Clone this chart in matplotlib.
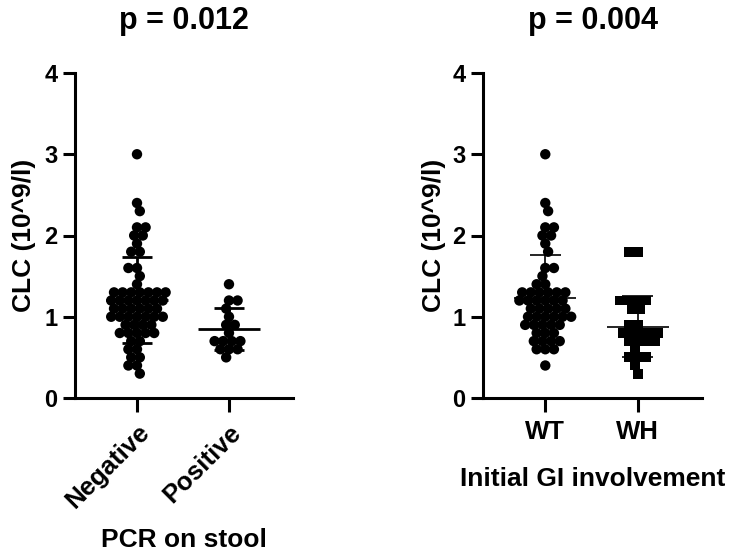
import numpy as np
import matplotlib
matplotlib.use("Agg")
import matplotlib.pyplot as plt

plt.rcParams['font.family'] = ['Liberation Sans', 'DejaVu Sans']
plt.rcParams['font.weight'] = 'bold'

# --- data (CLC, 10^9/l) ---
pcr_groups = ['Negative', 'Positive']
pcr_negative = [3.0, 2.4, 2.3, 2.1, 2.1, 2.0, 2.0, 1.9, 1.8, 1.8, 1.6, 1.6, 1.5, 1.4,
                1.3, 1.3, 1.3, 1.3, 1.3, 1.3, 1.3,
                1.2, 1.2, 1.2, 1.2, 1.2, 1.2, 1.2,
                1.1, 1.1, 1.1, 1.1, 1.1, 1.1,
                1.0, 1.0, 1.0, 1.0, 1.0, 1.0, 1.0,
                0.9, 0.9, 0.9, 0.9, 0.8, 0.8, 0.8, 0.8, 0.8,
                0.7, 0.7, 0.6, 0.6, 0.5, 0.5, 0.4, 0.4, 0.3]
pcr_positive = [1.4, 1.2, 1.2, 1.1, 1.0, 0.9, 0.9, 0.8, 0.7, 0.7, 0.7, 0.7,
                0.6, 0.6, 0.6, 0.5]

gi_groups = ['WT', 'WH']
gi_wt = [3.0, 2.4, 2.3, 2.1, 2.1, 2.0, 2.0, 1.9, 1.8, 1.6, 1.6, 1.5, 1.4, 1.4,
         1.3, 1.3, 1.3, 1.3, 1.3, 1.3, 1.2, 1.2, 1.2, 1.2, 1.2, 1.2,
         1.1, 1.1, 1.1, 1.1, 1.1, 1.0, 1.0, 1.0, 1.0, 1.0, 1.0,
         0.9, 0.9, 0.9, 0.9, 0.9, 0.8, 0.8, 0.8, 0.7, 0.7, 0.7, 0.7,
         0.6, 0.6, 0.6, 0.4]
gi_wh = [1.8, 1.8, 1.2, 1.2, 1.2, 1.2, 1.1, 1.1, 0.9, 0.9,
         0.8, 0.8, 0.8, 0.8, 0.8, 0.7, 0.7, 0.7, 0.7, 0.6,
         0.5, 0.5, 0.5, 0.4, 0.3]

titles = ['p = 0.012', 'p = 0.004']
xlabels = ['PCR on stool', 'Initial GI involvement']
ylabel = 'CLC (10^9/l)'

PX_Y = 81.25   # pixels per y unit
PX_X = 92.0    # pixels per category step


def swarm(values, diam):
    # simple beeswarm: put each point as close to the centre as it fits
    vals = np.asarray(values, dtype=float)
    order = np.argsort(-vals, kind='stable')
    placed = []
    offs = np.zeros(len(vals))
    for n, i in enumerate(order):
        y = vals[i] * PX_Y
        cands = [0.0]
        for px, py in placed:
            dy = abs(py - y)
            if dy < diam:
                dx = np.sqrt(diam ** 2 - dy ** 2)
                cands += [px + dx, px - dx]
        sgn = 1 if n % 2 else -1
        cands.sort(key=lambda c: (round(abs(c), 3), sgn * c))
        for c in cands:
            if all((c - px) ** 2 + (y - py) ** 2 >= diam ** 2 - 1e-6 for px, py in placed):
                break
        placed.append((c, y))
        offs[i] = c / PX_X
    return offs


def panel(ax, groups, data, markers, title, xlabel, lw_bar, rot):
    for k, vals in enumerate(data):
        offs = swarm(vals, 8.6)
        ax.scatter(k + offs, vals, s=56 if markers[k] == 'o' else 50,
                   marker=markers[k], color='black', edgecolor='none',
                   zorder=3, clip_on=False)
        m = np.mean(vals)
        sd = np.std(vals, ddof=1)
        ax.hlines(m, k - 0.337, k + 0.337, color='black', lw=lw_bar, zorder=4)
        ax.vlines(k, m - sd, m + sd, color='black', lw=lw_bar, zorder=4)
        ax.hlines([m - sd, m + sd], k - 0.168, k + 0.168, color='black',
                  lw=lw_bar, zorder=4)
    ax.set_xlim(-0.674, 1.696)
    ax.set_ylim(0, 4)
    ax.set_yticks([0, 1, 2, 3, 4])
    ax.set_xticks(range(len(groups)))
    if rot:
        ax.set_xticklabels(groups, rotation=45, ha='right',
                           rotation_mode='anchor', fontsize=18.5, weight='bold')
    else:
        ax.set_xticklabels(groups, fontsize=18.5, weight='bold')
    for lab in ax.get_yticklabels():
        lab.set_fontsize(17)
        lab.set_fontweight('bold')
    for s in ['top', 'right']:
        ax.spines[s].set_visible(False)
    for s in ['left', 'bottom']:
        ax.spines[s].set_linewidth(2.2)
    ax.tick_params(axis='y', length=8.5, width=2.2, pad=4)
    ax.tick_params(axis='x', length=10, width=2.2, pad=6)
    ax.text(0.5, 1.16, title, transform=ax.transAxes, fontsize=22,
            weight='bold', ha='center', va='center')
    ax.set_ylabel(ylabel, fontsize=19, weight='bold')
    ax.set_xlabel(xlabel, fontsize=19, weight='bold')
    ax.yaxis.label.set_rotation_mode('default')
    ax.yaxis.label.set_ha('center')
    ax.yaxis.label.set_va('center')
    ax.xaxis.label.set_va('center')


fig = plt.figure(figsize=(7.3, 5.57), dpi=100)
ax1 = fig.add_axes([75 / 730, 159 / 557, 218 / 730, 325 / 557])
ax2 = fig.add_axes([483 / 730, 159 / 557, 219 / 730, 325 / 557])

panel(ax1, pcr_groups, [pcr_negative, pcr_positive], ['o', 'o'],
      titles[0], xlabels[0], 2.0, True)
panel(ax2, gi_groups, [gi_wt, gi_wh], ['o', 's'],
      titles[1], xlabels[1], 1.2, False)

ax1.yaxis.set_label_coords(-0.235, 0.5)
ax2.yaxis.set_label_coords(-0.225, 0.5)
ax1.xaxis.set_label_coords(0.5, -0.437)
ax2.xaxis.set_label_coords(0.5, -0.249)

fig.savefig('out.png', dpi=100)
